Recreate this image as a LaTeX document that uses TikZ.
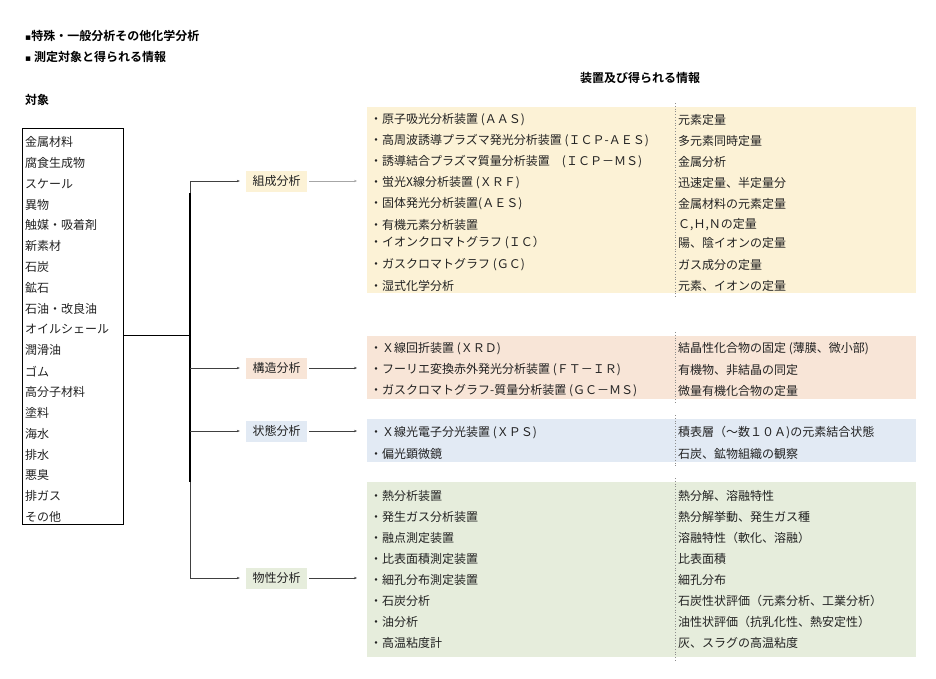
\documentclass[tikz,border=0pt]{standalone}
\usepackage{fontspec}
\setmainfont{Noto Sans CJK JP}[BoldFont={Noto Sans CJK JP Bold}]
\newfontfamily\symfont{DejaVu Sans}
\usetikzlibrary{calc,arrows.meta}
\definecolor{compbg}{HTML}{FCF2D6}
\definecolor{strbg}{HTML}{F8E5D7}
\definecolor{statebg}{HTML}{E2EAF4}
\definecolor{propbg}{HTML}{E6EDDC}
\definecolor{ink}{HTML}{222222}
\tikzset{
   heading/.style={font=\bfseries\fontsize{12}{14}\selectfont, anchor=west, inner sep=0pt},
   item/.style={font=\fontsize{12}{14}\selectfont, anchor=west, inner sep=0pt, text=ink},
   panel/.style={anchor=north west, inner sep=0pt, minimum width=549pt},
   category/.style={minimum width=61pt, minimum height=21pt, inner sep=0pt,
                    font=\fontsize{12}{14}\selectfont, text=ink},
   branch/.style={-{Stealth[length=3pt,width=2.4pt]}, line width=0.6pt, draw=black!75},
   divider/.style={dotted, line width=0.8pt, draw=black!45}
}

\begin{document}
\begin{tikzpicture}[x=1pt,y=-1pt]
\useasboundingbox (0,0) rectangle (936,678);
% headings
\node[heading] (title)   at (25,36) {{\symfont\fontsize{9}{10}\selectfont ▪}特殊・一般分析その他化学分析};
\node[heading] (subtitle) at (25,57) {{\symfont\fontsize{9}{10}\selectfont ▪} 測定対象と得られる情報};
\node[heading] (objhead) at (25,100) {対象};
\node[heading] (devhead) at (580,78) {装置及び得られる情報};
%
% objects
\node[draw, line width=0.8pt, anchor=north west, inner sep=0pt,
      minimum width=101pt, minimum height=396pt] (objbox) at (22,128) {};
\foreach \t [count=\i from 0] in {金属材料,腐食生成物,スケール,異物,触媒・吸着剤,新素材,石炭,鉱石,
    石油・改良油,オイルシェール,潤滑油,ゴム,高分子材料,塗料,海水,排水,悪臭,排ガス,その他}
  \node[item] (obj\i) at (25,{142+20.83*\i}) {\t};
%
% panels
\node[panel, fill=compbg,  minimum height=186pt] (comp)  at (367,107) {};
\node[panel, fill=strbg,   minimum height=63pt]  (str)   at (367,336) {};
\node[panel, fill=statebg, minimum height=43pt]  (state) at (367,419) {};
\node[panel, fill=propbg,  minimum height=175pt] (prop)  at (367,482) {};
\draw[divider] (675,103) -- (675,297);
\draw[divider] (675,332) -- (675,403);
\draw[divider] (675,415) -- (675,466);
\draw[divider] (675,478) -- (675,661);
%
\foreach \y/\dev/\info [count=\i] in {
    120/{・原子吸光分析装置 (ＡＡＳ)}/{元素定量},
    141/{・高周波誘導プラズマ発光分析装置 (ＩＣＰ-ＡＥＳ)}/{多元素同時定量},
    162/{・誘導結合プラズマ質量分析装置　(ＩＣＰ－ＭＳ)}/{金属分析},
    183/{・蛍光X線分析装置 (ＸＲＦ)}/{迅速定量、半定量分},
    204/{・固体発光分析装置(ＡＥＳ)}/{金属材料の元素定量},
    225/{・有機元素分析装置}/{Ｃ,Ｈ,Ｎの定量},
    243/{・イオンクロマトグラフ (ＩＣ）}/{陽、陰イオンの定量},
    265/{・ガスクロマトグラフ (ＧＣ)}/{ガス成分の定量},
    286/{・湿式化学分析}/{元素、イオンの定量}}
{
  \node[item] (compdev\i)  at (370,\y) {\dev};
  \node[item] (compinfo\i) at (678,\y) {\info};
}
\foreach \y/\dev/\info [count=\i] in {
    349/{・Ｘ線回折装置 (ＸＲＤ)}/{結晶性化合物の固定 (薄膜、微小部)},
    370/{・フーリエ変換赤外発光分析装置 (ＦＴ－ＩＲ)}/{有機物、非結晶の同定},
    391/{・ガスクロマトグラフ-質量分析装置 (ＧＣ－ＭＳ)}/{微量有機化合物の定量}}
{
  \node[item] (strdev\i)  at (370,\y) {\dev};
  \node[item] (strinfo\i) at (678,\y) {\info};
}
\foreach \y/\dev/\info [count=\i] in {
    433/{・Ｘ線光電子分光装置 (ＸＰＳ)}/{積表層（～数１０Ａ)の元素結合状態},
    454/{・偏光顕微鏡}/{石炭、鉱物組織の観察}}
{
  \node[item] (statedev\i)  at (370,\y) {\dev};
  \node[item] (stateinfo\i) at (678,\y) {\info};
}
\foreach \y/\dev/\info [count=\i] in {
    496/{・熱分析装置}/{熱分解、溶融特性},
    517/{・発生ガス分析装置}/{熱分解挙動、発生ガス種},
    538/{・融点測定装置}/{溶融特性（軟化、溶融）},
    559/{・比表面積測定装置}/{比表面積},
    580/{・細孔分布測定装置}/{細孔分布},
    601/{・石炭分析}/{石炭性状評価（元素分析、工業分析）},
    622/{・油分析}/{油性状評価（抗乳化性、熱安定性）},
    643/{・高温粘度計}/{灰、スラグの高温粘度}}
{
  \node[item] (propdev\i)  at (370,\y) {\dev};
  \node[item] (propinfo\i) at (678,\y) {\info};
}
%
% categories
\node[category, fill=compbg]  (compcat)  at (276.5,181) {組成分析};
\node[category, fill=strbg]   (strcat)   at (276.5,368) {構造分析};
\node[category, fill=statebg] (statecat) at (276.5,431) {状態分析};
\node[category, fill=propbg]  (propcat)  at (276.5,578) {物性分析};
%
% tree
\coordinate (trunktop) at (190,181);
\coordinate (trunkmid) at (190,335);
\coordinate (trunkbot) at (190,578);
\draw[line width=0.8pt] (objbox.east |- trunkmid) -- (trunkmid);
\draw[line width=0.6pt, draw=black!75] (trunktop) -- (trunkbot);
\draw[line width=1.4pt] (190,193) -- (190,482);
\foreach \c in {compcat,strcat,statecat,propcat}
  \draw[branch, shorten >=6pt] (\c.west -| trunktop) -- (\c.west);
\draw[branch, line width=1pt, draw=black!35, shorten <=2pt, shorten >=10pt] (compcat.east) -- (compcat.east -| comp.west);
\foreach \c/\p in {strcat/str,statecat/state,propcat/prop}
  \draw[branch, shorten <=2pt, shorten >=10pt] (\c.east) -- (\c.east -| \p.west);
\end{tikzpicture}
\end{document}
